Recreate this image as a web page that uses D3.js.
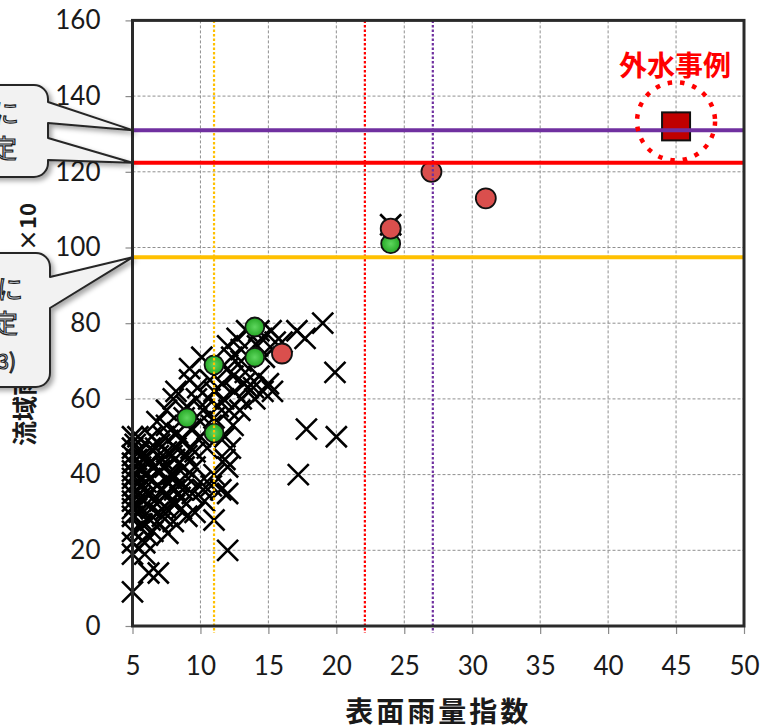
<!DOCTYPE html>
<html>
<head>
<meta charset="utf-8">
<script src="https://cdn.jsdelivr.net/npm/d3@7"></script>
<style>
  body { margin: 0; background: #fff; }
  svg { display: block; }
</style>
</head>
<body>
<div id="chart"></div>
<script>
// SCATTER: 表面雨量指数 vs 流域雨量指数
// tick labels
var xTickValues = [5, 10, 15, 20, 25, 30, 35, 40, 45, 50];
var yTickValues = [0, 20, 40, 60, 80, 100, 120, 140, 160];

// past events, drawn as x marks [表面雨量指数, 流域雨量指数]
var crossPoints = [
  [5, 9], [5, 19], [5, 22], [5, 25], [5, 29], [5, 31], [5, 33], [5, 35], [5, 37], [5, 39],
  [5, 41], [5, 43], [5, 45], [5, 47], [5, 50],
  [5.2, 32], [5.3, 36], [5.2, 40], [5.3, 44], [5.2, 48], [5.6, 26], [5.7, 31], [5.8, 33],
  [5.4, 50], [5.5, 46], [5.6, 42], [5.5, 38], [5.6, 34], [5.5, 30], [5.9, 22], [5.9, 19],
  [5.7, 27], [5.8, 44], [5.9, 40], [5.8, 36],
  [6, 38], [6, 45], [6.1, 24],
  [6.2, 14], [6.4, 50], [6.3, 47], [6.2, 43], [6.3, 39], [6.2, 35], [6.4, 31], [6.3, 28], [6.5, 25],
  [6.6, 33], [6.6, 42], [6.7, 47],
  [6.9, 14], [6.8, 54], [7, 48], [6.9, 45], [7, 41], [6.8, 37], [7, 33], [6.9, 30], [7, 27],
  [7.2, 36], [7.2, 44], [7.3, 50], [7.2, 29],
  [7.5, 57], [7.5, 53], [7.6, 49], [7.5, 46], [7.4, 42], [7.6, 38], [7.5, 35], [7.6, 24.5], [7.5, 31],
  [7.8, 33], [7.8, 40], [7.9, 45],
  [8, 60], [8.2, 62], [8.1, 44], [8, 40], [8.1, 36], [8.1, 32], [8, 27.6], [8.2, 47], [8.3, 51],
  [8.4, 38], [8.4, 43], [8.5, 34],
  [8.6, 49], [8.6, 31], [9, 29], [9.1, 39], [8.8, 42], [9, 45], [9.2, 65], [9.2, 68], [8.8, 55],
  [9, 58], [8.7, 36], [9.3, 52], [9.3, 47], [9.4, 35],
  [9.6, 46], [9.6, 42], [9.6, 30], [9.7, 60], [10.1, 71], [10.2, 57], [10.3, 33], [10, 50],
  [10, 38], [9.8, 63], [10, 54], [10.2, 36],
  [10.5, 47], [10.8, 37], [11, 28], [11, 40], [11, 62], [10.7, 65], [11, 55], [10.8, 53],
  [11.3, 58], [10.6, 60],
  [11.6, 64], [11.7, 60], [12, 74], [12.4, 66], [12.4, 53], [12.2, 47], [11.8, 44], [12, 42],
  [12, 35], [11.5, 36], [12, 20], [12.1, 57], [12.5, 62], [12, 68], [12.3, 71], [11.8, 50],
  [12.7, 76], [13.4, 78], [13, 70], [13.2, 64], [13, 60], [13.5, 63], [12.9, 57], [13, 73], [13.3, 67],
  [13.9, 63], [14.5, 76], [14.3, 66], [14.6, 62], [14.2, 74], [14, 60], [14.7, 71], [14.3, 78],
  [15.2, 78], [15.5, 75], [15, 64], [15.3, 62], [16, 75], [17.1, 78], [17.7, 76], [19, 80],
  [19.9, 67], [17.8, 52], [20, 50], [17.2, 40], [24, 106]
];
// green circles
var greenPoints = [[9, 55], [11, 51], [11, 69], [14, 71], [14, 79], [24, 101]];
// red circles
var redPoints = [[16, 72], [24, 105], [27, 120], [31, 113]];
// 外水事例
var casePoint = [[45, 132]];
// horizontal reference lines (purple, red, yellow)
var levelValues = [131, 122.4, 97.4];
// vertical dotted lines (yellow, red, purple)
var guideValues = [11, 22.1, 27.1];

var xTitle = "表面雨量指数";
var yTitle = "流域雨量指数";
var yTitleUnit = "×10";
var caseLabel = "外水事例";
var bubbleTopText = ["に", "定"];
var bubbleBottomText = ["に", "定", "3)"];

(function() {
  var width = 764, height = 728;
  var plot = { left: 132.5, right: 744, top: 20.4, bottom: 626 };

  var svg = d3.select("#chart")
    .append("svg")
    .attr("width", width)
    .attr("height", height);

  var defs = svg.append("defs");
  // soft shadow for the callouts
  var shadow = defs.append("filter").attr("id", "shadow")
    .attr("x", "-20%").attr("y", "-20%").attr("width", "150%").attr("height", "150%");
  shadow.append("feDropShadow")
    .attr("dx", 3).attr("dy", 3).attr("stdDeviation", 2.5)
    .attr("flood-color", "#000").attr("flood-opacity", 0.35);

  var greenGrad = defs.append("radialGradient").attr("id", "greenFill");
  greenGrad.append("stop").attr("offset", "0%").attr("stop-color", "#5fd65f");
  greenGrad.append("stop").attr("offset", "100%").attr("stop-color", "#25a825");

  // scales
  var xScale = d3.scaleLinear().domain([5, 50]).range([plot.left, plot.right]);
  var yScale = d3.scaleLinear().domain([0, 160]).range([plot.bottom, plot.top]);

  // dashed grid
  var grid = svg.append("g").attr("class", "grid")
    .attr("stroke", "#8f8f8f")
    .attr("stroke-width", 1)
    .attr("stroke-dasharray", "3 2");
  grid.selectAll(".gx")
    .data(xTickValues.slice(1, -1))
    .enter().append("line")
    .attr("x1", function(d) { return xScale(d) })
    .attr("x2", function(d) { return xScale(d) })
    .attr("y1", plot.top)
    .attr("y2", plot.bottom);
  grid.selectAll(".gy")
    .data(yTickValues.slice(1, -1))
    .enter().append("line")
    .attr("x1", plot.left)
    .attr("x2", plot.right)
    .attr("y1", function(d) { return yScale(d) })
    .attr("y2", function(d) { return yScale(d) });

  // axes
  var xAxis = d3.axisBottom(xScale).tickValues(xTickValues).tickSize(8).tickPadding(23);
  var yAxis = d3.axisLeft(yScale).tickValues(yTickValues).tickSize(7).tickPadding(25);

  var gx = svg.append("g")
    .attr("transform", "translate(0," + plot.bottom + ")")
    .call(xAxis);
  var gy = svg.append("g")
    .attr("transform", "translate(" + plot.left + ",0)")
    .call(yAxis);

  [gx, gy].forEach(function(g) {
    g.select(".domain").remove();
    g.selectAll(".tick line").attr("stroke", "#8a8a8a").attr("stroke-width", 1.2);
    g.selectAll(".tick text")
      .attr("font-family", "Lato, 'Liberation Sans', sans-serif")
      .attr("font-size", 26)
      .attr("fill", "#1a1a1a");
  });

  // x marks
  svg.append("g").selectAll(".cross")
    .data(crossPoints)
    .enter().append("path")
    .attr("class", "cross")
    .attr("transform", function(d) { return "translate(" + xScale(d[0]) + "," + yScale(d[1]) + ")" })
    .attr("d", "M-10.5,-10.5L10.5,10.5M-10.5,10.5L10.5,-10.5")
    .attr("stroke", "#000")
    .attr("stroke-width", 2.6)
    .attr("fill", "none");

  // green circles
  svg.append("g").selectAll(".green")
    .data(greenPoints)
    .enter().append("circle")
    .attr("cx", function(d) { return xScale(d[0]) })
    .attr("cy", function(d) { return yScale(d[1]) })
    .attr("r", 9.5)
    .attr("fill", "url(#greenFill)")
    .attr("stroke", "#111")
    .attr("stroke-width", 1.8);

  // red circles
  svg.append("g").selectAll(".red")
    .data(redPoints)
    .enter().append("circle")
    .attr("cx", function(d) { return xScale(d[0]) })
    .attr("cy", function(d) { return yScale(d[1]) })
    .attr("r", 10)
    .attr("fill", "#da4f4d")
    .attr("stroke", "#111")
    .attr("stroke-width", 1.8);

  // the outside-water case
  svg.append("g").selectAll(".case")
    .data(casePoint)
    .enter().append("rect")
    .attr("x", function(d) { return xScale(d[0]) - 14 })
    .attr("y", function(d) { return yScale(d[1]) - 14 })
    .attr("width", 28)
    .attr("height", 28)
    .attr("fill", "#c00000")
    .attr("stroke", "#111")
    .attr("stroke-width", 2);

  // vertical dotted lines
  var guideColors = ["#ffc000", "#ff0000", "#7030a0"];
  svg.append("g").selectAll(".guide")
    .data(guideValues)
    .enter().append("line")
    .attr("x1", function(d) { return xScale(d) })
    .attr("x2", function(d) { return xScale(d) })
    .attr("y1", plot.top)
    .attr("y2", plot.bottom + 7)
    .attr("stroke", function(d, i) { return guideColors[i] })
    .attr("stroke-width", 2.2)
    .attr("stroke-dasharray", "2.5 2");

  // horizontal solid lines
  var levelColors = ["#7030a0", "#ff0000", "#ffc000"];
  svg.append("g").selectAll(".level")
    .data(levelValues)
    .enter().append("line")
    .attr("x1", plot.left)
    .attr("x2", plot.right)
    .attr("y1", function(d) { return yScale(d) })
    .attr("y2", function(d) { return yScale(d) })
    .attr("stroke", function(d, i) { return levelColors[i] })
    .attr("stroke-width", 4);

  // plot frame
  svg.append("rect")
    .attr("x", plot.left)
    .attr("y", plot.top)
    .attr("width", plot.right - plot.left)
    .attr("height", plot.bottom - plot.top)
    .attr("fill", "none")
    .attr("stroke", "#2a2a2a")
    .attr("stroke-width", 3);

  // dotted ring + label around the case
  var cx = xScale(casePoint[0][0]), cy = yScale(casePoint[0][1]);
  svg.append("circle")
    .attr("cx", cx)
    .attr("cy", cy - 5)
    .attr("r", 39)
    .attr("fill", "none")
    .attr("stroke", "#ff0000")
    .attr("stroke-width", 4.5)
    .attr("stroke-dasharray", "4.5 8");

  svg.append("text")
    .text(caseLabel)
    .attr("x", cx - 1)
    .attr("y", cy - 50)
    .attr("text-anchor", "middle")
    .attr("font-family", "'Noto Sans CJK JP', sans-serif")
    .attr("font-weight", "bold")
    .attr("font-size", 28)
    .attr("fill", "#ff0000");

  // axis titles
  svg.append("text")
    .text(xTitle)
    .attr("x", (plot.left + plot.right) / 2)
    .attr("y", 722)
    .attr("text-anchor", "middle")
    .attr("font-family", "'Noto Sans CJK JP', sans-serif")
    .attr("font-weight", "bold")
    .attr("font-size", 28)
    .attr("letter-spacing", 3)
    .attr("fill", "#1a1a1a");

  svg.append("text")
    .text(yTitle)
    .attr("transform", "translate(34,446) rotate(-90)")
    .attr("text-anchor", "start")
    .attr("font-family", "'Noto Sans CJK JP', sans-serif")
    .attr("font-weight", "bold")
    .attr("font-size", 25)
    .attr("fill", "#1a1a1a");

  svg.append("text")
    .text(yTitleUnit)
    .attr("transform", "translate(36,203) rotate(-90)")
    .attr("text-anchor", "end")
    .attr("font-family", "'Noto Sans CJK JP', sans-serif")
    .attr("font-weight", "bold")
    .attr("font-size", 22)
    .attr("fill", "#1a1a1a");

  // callout bubbles, cut by the left edge of the picture
  function bubblePath(right, top, bottom, r, wedges) {
    var p = d3.path();
    var left = -60;
    p.moveTo(left, top);
    p.lineTo(right - r, top);
    p.arcTo(right, top, right, top + r, r);
    wedges.forEach(function(w) {
      p.lineTo(right, w[0]);
      p.lineTo(w[2], w[3]);
      p.lineTo(right, w[1]);
    });
    p.lineTo(right, bottom - r);
    p.arcTo(right, bottom, right - r, bottom, r);
    p.lineTo(left, bottom);
    p.closePath();
    return p.toString();
  }

  var axisX = xScale(5);
  var bubbles = [
    { right: 48, top: 85, bottom: 177,
      wedges: [[102, 123, axisX, yScale(levelValues[0])], [138, 160, axisX, yScale(levelValues[1])]],
      lines: bubbleTopText, ys: [123, 158], xs: [19, 17], sizes: [26, 26] },
    { right: 50, top: 253, bottom: 387,
      wedges: [[277, 308, axisX, yScale(levelValues[2])]],
      lines: bubbleBottomText, ys: [299, 333, 369], xs: [23, 18], sizes: [26, 26, 21] }
  ];
  bubbles[1].xs.push(16);

  bubbles.forEach(function(b) {
    var g = svg.append("g");
    g.append("path")
      .attr("d", bubblePath(b.right, b.top, b.bottom, 14, b.wedges))
      .attr("fill", "#f2f2f2")
      .attr("stroke", "#262626")
      .attr("stroke-width", 2)
      .attr("stroke-linejoin", "round")
      .attr("filter", "url(#shadow)");
    g.selectAll("text")
      .data(b.lines)
      .enter().append("text")
      .text(function(d) { return d })
      .attr("x", function(d, i) { return b.xs[i] })
      .attr("y", function(d, i) { return b.ys[i] })
      .attr("text-anchor", "end")
      .attr("font-family", "'Noto Sans CJK JP', sans-serif")
      .attr("font-size", function(d, i) { return b.sizes[i] })
      .attr("fill", "#dce6f2")
      .attr("stroke", "#1f1f1f")
      .attr("stroke-width", 1.2);
  });
})();
</script>
</body>
</html>
